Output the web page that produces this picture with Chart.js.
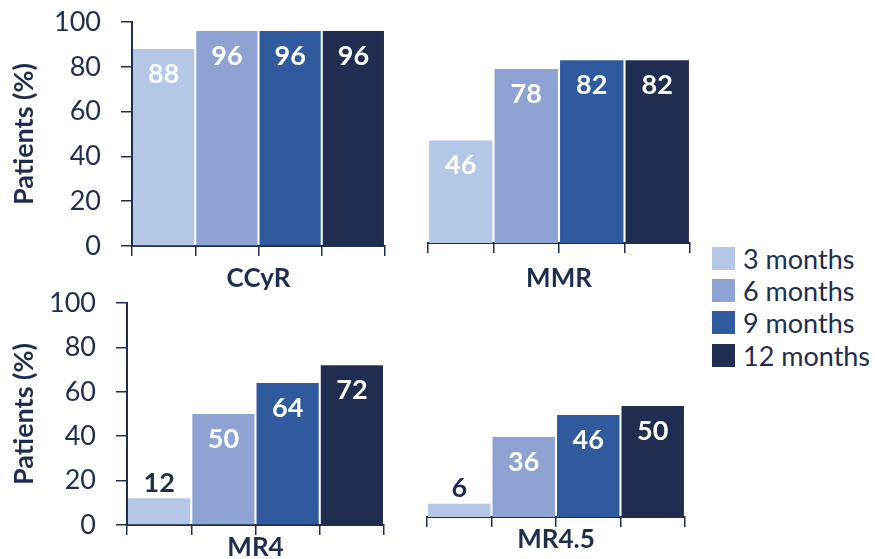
<!DOCTYPE html>
<html>
<head>
<meta charset="utf-8">
<script src="https://cdn.jsdelivr.net/npm/chart.js@4.4.1/dist/chart.umd.min.js"></script>
<style>
  html, body { margin: 0; padding: 0; background: #fff; overflow: hidden; }
  body { width: 875px; height: 559px; position: relative; font-family: Lato, sans-serif; }
  canvas { position: absolute; }
  #legend { position: absolute; left: 712px; top: 242px; color: #1f2d4f; font-size: 27px; }
  .item { height: 32.3px; display: flex; align-items: center; }
  .box { width: 23px; height: 23px; margin-right: 8px; }
</style>
</head>
<body>
<canvas id="ccyr" width="400" height="290" style="left:0;top:0"></canvas>
<canvas id="mmr" width="300" height="290" style="left:400px;top:0"></canvas>
<canvas id="mr4" width="400" height="290" style="left:0;top:290px"></canvas>
<canvas id="mr45" width="300" height="290" style="left:400px;top:290px"></canvas>
<div id="legend"></div>
<script>
const periods = ['3 months', '6 months', '9 months', '12 months'];
const ccyr = [88, 96, 96, 96];
const mmr = [46, 78, 82, 82];
const mr4 = [12, 50, 64, 72];
const mr45 = [6, 36, 46, 50];
const yMin = 0, yMax = 100, yStep = 20;

const colors = ['#b4c7e7', '#8fa2d4', '#2f5a9e', '#212d50'];
const navy = '#1f2d4f';

// value labels: inside the bar when it is tall enough, above it otherwise
const barLabels = {
  id: 'barLabels',
  afterDatasetsDraw(chart) {
    const {ctx} = chart;
    const values = chart.data.datasets[0].data;
    ctx.save();
    ctx.font = 'bold 27px Lato';
    ctx.textAlign = 'center';
    ctx.textBaseline = 'middle';
    chart.getDatasetMeta(0).data.forEach((bar, i) => {
      const inside = bar.base - bar.y > 40;
      ctx.fillStyle = inside ? '#fff' : navy;
      ctx.fillText(values[i], bar.x, inside ? bar.y + 25 : bar.y - 15);
    });
    ctx.restore();
  }
};

function makePanel(id, title, values, o) {
  return new Chart(document.getElementById(id), {
    type: 'bar',
    data: {
      labels: periods,
      datasets: [{
        data: values,
        backgroundColor: colors,
        barPercentage: 0.968,
        categoryPercentage: 1
      }]
    },
    options: {
      responsive: false,
      animation: false,
      layout: { padding: o.padding },
      plugins: { legend: { display: false }, tooltip: { enabled: false } },
      scales: {
        x: {
          ticks: { display: false },
          grid: { display: true, drawOnChartArea: false, drawTicks: true, tickLength: 10, color: navy, lineWidth: 1.5, offset: true },
          border: { display: true, color: navy, width: 2 },
          title: {
            display: true, text: title, color: navy,
            font: { family: 'Lato', size: 26, weight: 'bold', lineHeight: 1 },
            padding: { top: 0, bottom: o.titlePad }
          },
          afterFit: s => { s.height = o.xHeight; }
        },
        y: {
          display: o.showY,
          min: yMin, max: yMax,
          ticks: { stepSize: yStep, color: navy, padding: 20, font: { family: 'Lato', size: 27, lineHeight: 1 } },
          grid: { display: true, drawOnChartArea: false, drawTicks: true, tickLength: 11, color: navy, lineWidth: 1.5 },
          border: { display: true, color: navy, width: 2 },
          title: {
            display: true, text: 'Patients (%)', color: navy,
            font: { family: 'Lato', size: 27, weight: 'bold', lineHeight: 1 },
            padding: { top: 11, bottom: 0 }
          },
          afterFit: s => {
            if (o.showY) s.width = o.yWidth;
            s.paddingTop = 0;
            s.paddingBottom = 0;
          }
        }
      }
    },
    plugins: [barLabels]
  });
}

function buildLegend() {
  const el = document.getElementById('legend');
  periods.forEach((p, i) => {
    const row = document.createElement('div');
    row.className = 'item';
    const box = document.createElement('span');
    box.className = 'box';
    box.style.background = colors[i];
    row.appendChild(box);
    row.appendChild(document.createTextNode(p));
    el.appendChild(row);
  });
}

function draw() {
  makePanel('ccyr', 'CCyR', ccyr, { showY: true, yWidth: 132, xHeight: 44, titlePad: -2, padding: { top: 22, right: 15, left: 0, bottom: 0 } });
  makePanel('mmr', 'MMR', mmr, { showY: false, xHeight: 47, titlePad: -2, padding: { top: 20, right: 10, left: 28, bottom: 0 } });
  makePanel('mr4', 'MR4', mr4, { showY: true, yWidth: 127, xHeight: 55, titlePad: 19, padding: { top: 13, right: 16, left: 0, bottom: 0 } });
  makePanel('mr45', 'MR4.5', mr45, { showY: false, xHeight: 63, titlePad: 27, padding: { top: 5, right: 15, left: 27, bottom: 0 } });
  buildLegend();
}

Promise.all([
  document.fonts.load('27px Lato'),
  document.fonts.load('bold 27px Lato')
]).then(draw, draw);
</script>
</body>
</html>
